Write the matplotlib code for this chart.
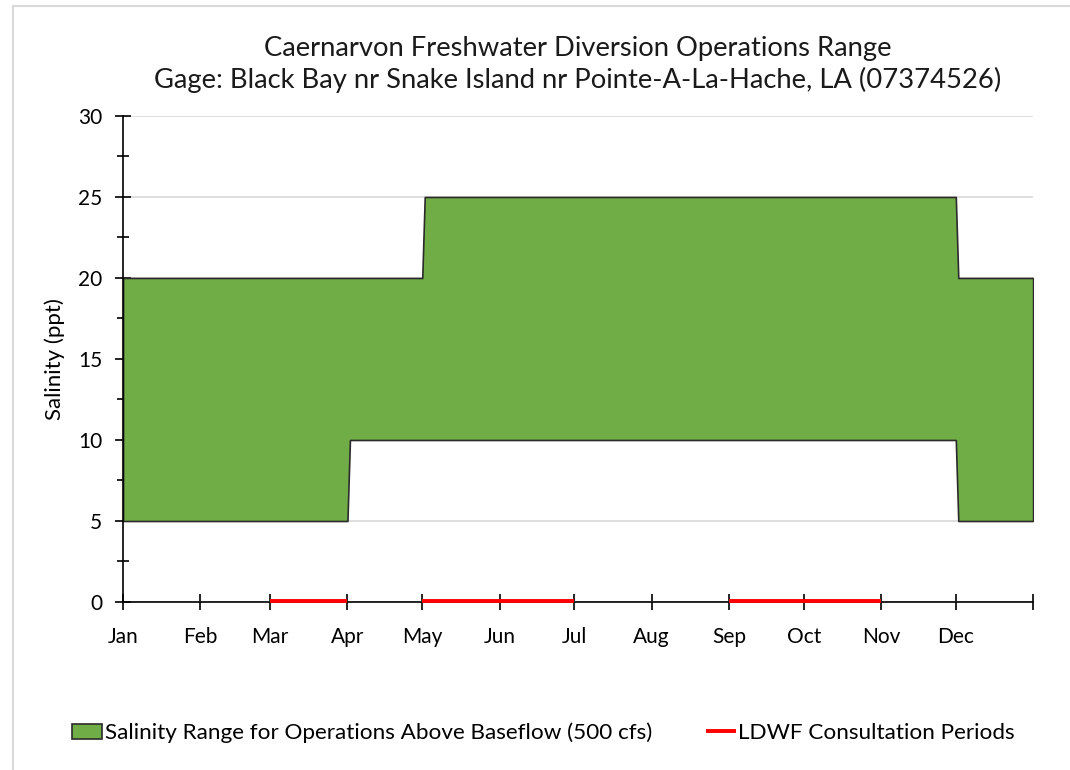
import matplotlib.pyplot as plt
from matplotlib.lines import Line2D
from matplotlib.ticker import MultipleLocator

plt.rcParams['font.family'] = ['Lato', 'DejaVu Sans']

# day of year at the start of each month (last one = end of year)
month_starts = [0, 31, 59, 90, 120, 151, 181, 212, 243, 273, 304, 334, 365]
month_labels = ["Jan", "Feb", "Mar", "Apr", "May", "Jun", "Jul", "Aug",
                "Sep", "Oct", "Nov", "Dec", ""]

# salinity operations range (ppt)
range_days = [0, 90, 91, 120, 121, 334, 335, 365]
range_low = [5, 5, 10, 10, 10, 10, 5, 5]
range_high = [20, 20, 20, 20, 25, 25, 20, 20]

# LDWF consultation periods (start day, end day)
consult_periods = [(59, 90), (120, 181), (243, 304)]

green = "#70AD47"
red = "#FF0000"

fig = plt.figure(figsize=(10.7, 7.7), dpi=100)
ax = fig.add_axes([0.115, 0.2182, 0.8505, 0.6312])

ax.fill_between(range_days, range_low, range_high, facecolor=green,
                edgecolor="#2b2b2b", linewidth=1.2, zorder=2,
                label="Salinity Range for Operations Above Baseflow (500 cfs)")

for i, (start, end) in enumerate(consult_periods):
    ax.plot([start, end], [0.08, 0.08], color=red, linewidth=2.8,
            solid_capstyle="butt", zorder=5, clip_on=False,
            label="LDWF Consultation Periods" if i == 0 else None)

ax.set_xlim(0, 365)
ax.set_ylim(0, 30)
ax.set_xticks(month_starts)
ax.set_xticklabels(month_labels)
ax.yaxis.set_major_locator(MultipleLocator(5))
ax.yaxis.set_minor_locator(MultipleLocator(2.5))

ax.grid(axis="y", which="major", color="#D9D9D9", linewidth=1.2, zorder=0)
ax.set_axisbelow(True)

for side in ["top", "right"]:
    ax.spines[side].set_visible(False)
for side in ["left", "bottom"]:
    ax.spines[side].set_color("black")
    ax.spines[side].set_linewidth(1.2)

ax.tick_params(axis="both", which="major", direction="inout", length=12,
               width=1.2, labelsize=15, colors="black")
ax.tick_params(axis="y", which="minor", direction="inout", length=8.5,
               width=1.2)
ax.tick_params(axis="x", which="major", pad=12)
ax.tick_params(axis="y", which="major", pad=9)

ax.set_ylabel("Salinity (ppt)", fontsize=16, labelpad=9)
ax.set_title("Caernarvon Freshwater Diversion Operations Range\n"
             "Gage: Black Bay nr Snake Island nr Pointe-A-La-Hache, LA (07374526)",
             fontsize=19.7, linespacing=1.3, pad=20, color="#1a1a1a")

leg = fig.legend(loc="center", bbox_to_anchor=(0.508, 0.048), ncol=2,
                 frameon=False, fontsize=16.2, handlelength=1.35,
                 handletextpad=0.1, columnspacing=2.4)

# light frame around the chart area
fig.add_artist(Line2D([0.0122, 0.0122], [0.0, 0.9922], color="#D9D9D9",
                      linewidth=1.5, transform=fig.transFigure))
fig.add_artist(Line2D([0.0122, 1.0], [0.9922, 0.9922], color="#D9D9D9",
                      linewidth=1.5, transform=fig.transFigure))

fig.savefig("out.png", dpi=100)
